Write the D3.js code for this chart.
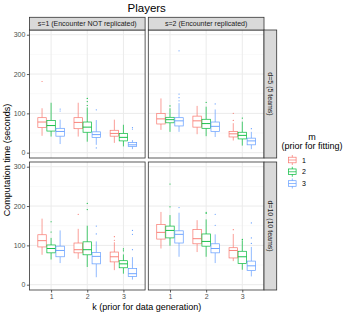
<!DOCTYPE html>
<html lang="en">
  <head>
    <meta charset="UTF-8" />
    <script src="https://cdn.jsdelivr.net/npm/d3@7"></script>
    <style>
      * { margin: 0; padding: 0; }
      body { background: #fff; }
      text { font-family: 'Liberation Sans', Arial, sans-serif; }
    </style>
    <title>Players</title>
  </head>
  <body>
    <div id="chart"></div>
  </body>
  <script>
    const kLevels = [1, 2, 3];
    const mLevels = ['1', '2', '3'];
    const colLabels = ['s=1 (Encounter NOT replicated)', 's=2 (Encounter replicated)'];
    const rowLabels = ['d=5 (5 teams)', 'd=10 (10 teams)'];
    const yTicks = [0, 100, 200, 300];
    const yMinor = [50, 150, 250];
    const colors = ['#F8766D', '#00BA38', '#619CFF'];

    // [k, m, lowWhisker, q1, median, q3, highWhisker, outliers]
    const s1d5 = [
      [1, 1, 43, 64, 78, 89, 113, [181]],
      [1, 2, 41, 55, 69, 82, 127, []],
      [1, 3, 22, 42, 54, 62, 84, [106, 111]],
      [2, 1, 41, 61, 77, 89, 127, []],
      [2, 2, 28, 52, 65, 78, 115, [120, 130, 138]],
      [2, 3, 20, 39, 46, 53, 83, [109, 12]],
      [3, 1, 25, 42, 49, 57, 84, []],
      [3, 2, 16, 30, 39, 49, 71, []],
      [3, 3, 9, 16, 20, 26, 32, [60, 64]]
    ];
    const s2d5 = [
      [1, 1, 58, 73, 86, 100, 138, []],
      [1, 2, 53, 76, 84, 90, 113, [119]],
      [1, 3, 53, 68, 81, 89, 126, [132, 140, 149, 259]],
      [2, 1, 47, 65, 81, 93, 119, []],
      [2, 2, 42, 62, 74, 85, 117, [128]],
      [2, 3, 40, 54, 67, 78, 110, [124]],
      [3, 1, 31, 40, 48, 54, 75, [82, 100]],
      [3, 2, 18, 35, 44, 52, 79, [88]],
      [3, 3, 9, 20, 30, 37, 53, [61]]
    ];
    const s1d10 = [
      [1, 1, 76, 96, 112, 127, 168, []],
      [1, 2, 64, 81, 92, 101, 119, [134, 160]],
      [1, 3, 55, 71, 87, 98, 138, []],
      [2, 1, 66, 81, 89, 106, 142, [179]],
      [2, 2, 45, 76, 89, 109, 150, [191, 207]],
      [2, 3, 19, 53, 72, 82, 110, [129, 149]],
      [3, 1, 37, 58, 71, 83, 108, [113, 122]],
      [3, 2, 28, 43, 53, 61, 77, [86, 91]],
      [3, 3, 13, 21, 28, 41, 70, [89, 128, 138]]
    ];
    const s2d10 = [
      [1, 1, 92, 116, 133, 153, 185, []],
      [1, 2, 99, 119, 138, 149, 177, [198, 256]],
      [1, 3, 71, 106, 128, 137, 183, [196]],
      [2, 1, 83, 104, 117, 140, 164, []],
      [2, 2, 71, 98, 110, 129, 166, [181, 184]],
      [2, 3, 55, 81, 92, 104, 128, [151, 179]],
      [3, 1, 60, 68, 87, 94, 129, [140]],
      [3, 2, 38, 54, 71, 85, 113, [115]],
      [3, 3, 21, 36, 48, 60, 96, [105, 119, 157]]
    ];
    const panels = [
      { row: 0, col: 0, data: s1d5 },
      { row: 0, col: 1, data: s2d5 },
      { row: 1, col: 0, data: s1d10 },
      { row: 1, col: 1, data: s2d10 }
    ];

    const W = 360, H = 315;
    const colX = [29.4, 148.3];
    const panelW = 115.7;
    const rowY = [30, 162];
    const panelH = 128;

    const svg = d3.select('#chart').append('svg')
      .attr('width', W).attr('height', H);

    const x = d3.scaleLinear().domain([0.4, 3.6]).range([0, panelW]);
    const y = d3.scaleLinear().domain([-13.5, 312]).range([panelH, 0]);
    const dodge = d3.scaleBand().domain(mLevels).range([-0.375, 0.375]);
    const boxW = x(dodge.bandwidth()) - x(0) - 0.6;

    // title
    svg.append('text')
      .attr('x', colX[0] + (colX[1] + panelW - colX[0]) / 2)
      .attr('y', 11.8)
      .attr('text-anchor', 'middle')
      .attr('font-size', 11.5)
      .attr('fill', '#000')
      .text('Players');

    panels.forEach((p) => {
      const g = svg.append('g')
        .attr('transform', `translate(${colX[p.col]},${rowY[p.row]})`);

      // grid
      g.selectAll('.minor').data(yMinor).join('line')
        .attr('x1', 0).attr('x2', panelW)
        .attr('y1', (d) => y(d)).attr('y2', (d) => y(d))
        .attr('stroke', '#F2F2F2').attr('stroke-width', 0.5);
      g.selectAll('.major').data(yTicks).join('line')
        .attr('x1', 0).attr('x2', panelW)
        .attr('y1', (d) => y(d)).attr('y2', (d) => y(d))
        .attr('stroke', '#EBEBEB').attr('stroke-width', 1);
      g.selectAll('.vgrid').data(kLevels).join('line')
        .attr('x1', (d) => x(d)).attr('x2', (d) => x(d))
        .attr('y1', 0).attr('y2', panelH)
        .attr('stroke', '#EBEBEB').attr('stroke-width', 1);

      // boxes
      p.data.forEach((b) => {
        const [k, m, lo, q1, med, q3, hi, outs] = b;
        const cx = x(k + dodge(String(m)) + dodge.bandwidth() / 2);
        const col = colors[m - 1];
        const bg = g.append('g');
        bg.append('line')
          .attr('x1', cx).attr('x2', cx).attr('y1', y(hi)).attr('y2', y(q3))
          .attr('stroke', col).attr('stroke-width', 0.7);
        bg.append('line')
          .attr('x1', cx).attr('x2', cx).attr('y1', y(q1)).attr('y2', y(lo))
          .attr('stroke', col).attr('stroke-width', 0.7);
        bg.append('rect')
          .attr('x', cx - boxW / 2).attr('y', y(q3))
          .attr('width', boxW).attr('height', y(q1) - y(q3))
          .attr('fill', '#fff').attr('stroke', col).attr('stroke-width', 0.7);
        bg.append('line')
          .attr('x1', cx - boxW / 2).attr('x2', cx + boxW / 2)
          .attr('y1', y(med)).attr('y2', y(med))
          .attr('stroke', col).attr('stroke-width', 0.9);
        bg.selectAll('circle').data(outs).join('circle')
          .attr('cx', cx).attr('cy', (d) => y(d)).attr('r', 0.6)
          .attr('fill', col);
      });

      // border
      g.append('rect')
        .attr('x', 0).attr('y', 0).attr('width', panelW).attr('height', panelH)
        .attr('fill', 'none').attr('stroke', '#333').attr('stroke-width', 0.8);

      // y axis on first column
      if (p.col === 0) {
        const ya = g.append('g').call(d3.axisLeft(y).tickValues(yTicks).tickSize(2.5).tickPadding(1.5));
        ya.select('.domain').remove();
        ya.selectAll('line').attr('stroke', '#333').attr('stroke-width', 0.8);
        ya.selectAll('text').attr('font-size', 7).attr('fill', '#4D4D4D')
          .attr('font-family', "'Liberation Sans', Arial, sans-serif");
      }
      // x axis on last row
      if (p.row === 1) {
        const xa = g.append('g').attr('transform', `translate(0,${panelH})`)
          .call(d3.axisBottom(x).tickValues(kLevels).tickFormat(d3.format('d')).tickSize(2.5).tickPadding(1.5));
        xa.select('.domain').remove();
        xa.selectAll('line').attr('stroke', '#333').attr('stroke-width', 0.8);
        xa.selectAll('text').attr('font-size', 7).attr('fill', '#4D4D4D')
          .attr('font-family', "'Liberation Sans', Arial, sans-serif");
      }
    });

    // column strips
    colLabels.forEach((lab, i) => {
      svg.append('rect')
        .attr('x', colX[i]).attr('y', 17.3).attr('width', panelW).attr('height', 12.7)
        .attr('fill', '#D9D9D9').attr('stroke', '#333').attr('stroke-width', 0.8);
      svg.append('text')
        .attr('x', colX[i] + panelW / 2).attr('y', 26.3)
        .attr('text-anchor', 'middle').attr('font-size', 7).attr('fill', '#1A1A1A')
        .text(lab);
    });
    // row strips
    rowLabels.forEach((lab, i) => {
      const sx = colX[1] + panelW;
      svg.append('rect')
        .attr('x', sx).attr('y', rowY[i]).attr('width', 12.7).attr('height', panelH)
        .attr('fill', '#D9D9D9').attr('stroke', '#333').attr('stroke-width', 0.8);
      svg.append('text')
        .attr('transform', `translate(${sx + 4},${rowY[i] + panelH / 2}) rotate(90)`)
        .attr('text-anchor', 'middle').attr('font-size', 7).attr('fill', '#1A1A1A')
        .text(lab);
    });

    // axis titles
    svg.append('text')
      .attr('transform', `translate(10,${rowY[0] + (rowY[1] + panelH - rowY[0]) / 2}) rotate(-90)`)
      .attr('text-anchor', 'middle').attr('font-size', 9).attr('fill', '#000')
      .text('Computation time (seconds)');
    svg.append('text')
      .attr('x', colX[0] + (colX[1] + panelW - colX[0]) / 2).attr('y', 310)
      .attr('text-anchor', 'middle').attr('font-size', 9).attr('fill', '#000')
      .text('k (prior for data generation)');

    // legend
    const lg = svg.append('g').attr('transform', 'translate(288,0)');
    lg.append('text').attr('x', 24).attr('y', 139.5)
      .attr('text-anchor', 'middle').attr('font-size', 9).text('m');
    lg.append('text').attr('x', 24).attr('y', 149)
      .attr('text-anchor', 'middle').attr('font-size', 9).text('(prior for fitting)');
    const keyY = d3.scalePoint().domain(mLevels).range([160, 183.5]);
    mLevels.forEach((m, i) => {
      const cy = keyY(m);
      const col = colors[i];
      lg.append('line').attr('x1', 4.3).attr('x2', 4.3).attr('y1', cy - 5).attr('y2', cy + 5)
        .attr('stroke', col).attr('stroke-width', 0.7);
      lg.append('rect').attr('x', 0.5).attr('y', cy - 2.8).attr('width', 7.6).attr('height', 5.6)
        .attr('fill', '#fff').attr('stroke', col).attr('stroke-width', 0.7);
      lg.append('line').attr('x1', 0.5).attr('x2', 8.1).attr('y1', cy).attr('y2', cy)
        .attr('stroke', col).attr('stroke-width', 0.7);
      lg.append('text').attr('x', 14).attr('y', cy + 2.5)
        .attr('font-size', 7).attr('fill', '#000').text(m);
    });
  </script>
</html>
